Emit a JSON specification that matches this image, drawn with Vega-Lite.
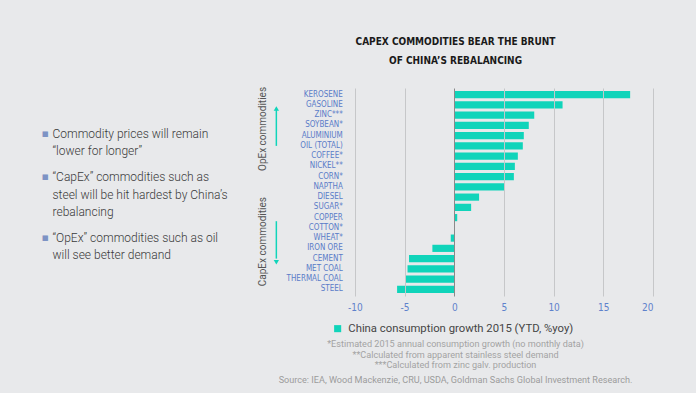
{
  "$schema": "https://vega.github.io/schema/vega-lite/v6.json",
  "background": "#e8e9eb",
  "padding": {"left": 41, "top": 36, "right": 43, "bottom": 8},
  "config": {
    "view": {"stroke": null},
    "font": "Roboto",
    "concat": {"spacing": 30}
  },
  "resolve": {"scale": {"color": "independent"}, "legend": {"color": "independent"}},
  "hconcat": [
    {
      "width": 1,
      "height": 208,
      "data": {"values": [
        {"id": 1, "lines": ["Commodity prices will remain", "“lower for longer”"]},
        {"id": 2, "lines": ["“CapEx” commodities such as", "steel will be hit hardest by China’s", "rebalancing"]},
        {"id": 3, "lines": ["“OpEx” commodities such as oil", "will see better demand"]}
      ]},
      "encoding": {
        "y": {"field": "id", "type": "ordinal", "scale": {"type": "point", "padding": 1, "align": 0.442}, "axis": null}
      },
      "layer": [
        {
          "transform": [{"filter": "length(datum.lines) == 2"}],
          "mark": {"type": "text", "align": "left", "baseline": "middle", "dx": 11, "fontSize": 12, "font": "Roboto", "fontWeight": 300, "lineHeight": 17.5, "color": "#3a3a3a"},
          "encoding": {"text": {"field": "lines"}}
        },
        {
          "transform": [{"filter": "length(datum.lines) == 3"}],
          "mark": {"type": "text", "align": "left", "baseline": "middle", "dx": 11, "dy": -8.75, "fontSize": 12, "font": "Roboto", "fontWeight": 300, "lineHeight": 17.5, "color": "#3a3a3a"},
          "encoding": {"text": {"field": "lines"}}
        },
        {
          "transform": [{"filter": "length(datum.lines) == 2"}],
          "mark": {"type": "text", "align": "left", "baseline": "middle", "fontSize": 11, "font": "DejaVu Sans", "color": "#7d93c4"},
          "encoding": {"text": {"value": "▪"}}
        },
        {
          "transform": [{"filter": "length(datum.lines) == 3"}],
          "mark": {"type": "text", "align": "left", "baseline": "middle", "dy": -8.75, "fontSize": 11, "font": "DejaVu Sans", "color": "#7d93c4"},
          "encoding": {"text": {"value": "▪"}}
        }
      ]
    },
    {
      "title": {
        "text": ["CAPEX COMMODITIES BEAR THE BRUNT", "OF CHINA’S REBALANCING"],
        "anchor": "middle",
        "frame": "bounds",
        "font": "DejaVu Sans Condensed",
        "fontSize": 10,
        "fontWeight": "bold",
        "color": "#1a1a1a",
        "lineHeight": 19,
        "offset": 21
      },
      "resolve": {"scale": {"color": "independent"}, "legend": {"color": "independent"}},
      "vconcat": [
        {
          "width": 321,
          "height": 208,
          "title": {
            "text": ["*Estimated 2015 annual consumption growth (no monthly data)", "**Calculated from apparent stainless steel demand", "***Calculated from zinc galv. production"],
            "subtitle": "Source: IEA, Wood Mackenzie, CRU, USDA, Goldman Sachs Global Investment Research.",
            "orient": "bottom",
            "anchor": "middle",
            "frame": "bounds",
            "font": "Roboto",
            "fontSize": 9.1,
            "fontWeight": "normal",
            "color": "#a3a3a3",
            "lineHeight": 10.5,
            "subtitleFont": "Roboto",
            "subtitleFontSize": 9.1,
            "subtitleColor": "#9c9c9c",
            "subtitlePadding": 6,
            "offset": 6
          },
          "layer": [
            {
              "data": {"values": [
                {"commodity": "KEROSENE", "growth": 17.7},
                {"commodity": "GASOLINE", "growth": 10.9},
                {"commodity": "ZINC***", "growth": 8.05},
                {"commodity": "SOYBEAN*", "growth": 7.5},
                {"commodity": "ALUMINIUM", "growth": 7.0},
                {"commodity": "OIL (TOTAL)", "growth": 6.9},
                {"commodity": "COFFEE*", "growth": 6.4},
                {"commodity": "NICKEL**", "growth": 6.1},
                {"commodity": "CORN*", "growth": 6.0},
                {"commodity": "NAPTHA", "growth": 5.1},
                {"commodity": "DIESEL", "growth": 2.5},
                {"commodity": "SUGAR*", "growth": 1.7},
                {"commodity": "COPPER", "growth": 0.3},
                {"commodity": "COTTON*", "growth": 0},
                {"commodity": "WHEAT*", "growth": -0.35},
                {"commodity": "IRON ORE", "growth": -2.2},
                {"commodity": "CEMENT", "growth": -4.55},
                {"commodity": "MET COAL", "growth": -4.7},
                {"commodity": "THERMAL COAL", "growth": -4.9},
                {"commodity": "STEEL", "growth": -5.75}
              ]},
              "mark": {"type": "bar"},
              "encoding": {
                "x": {
                  "field": "growth", "type": "quantitative",
                  "scale": {"domain": [-12.3, 20], "nice": false, "zero": false},
                  "axis": {
                    "values": [-10, -5, 0, 5, 10, 15, 20],
                    "labelExpr": "datum.value + ''",
                    "grid": true,
                    "gridColor": {"condition": {"test": "datum.value === 0", "value": "#8a8a8a"}, "value": "#c6c7c9"},
                    "gridWidth": 1,
                    "domain": false, "ticks": false,
                    "labelFont": "DejaVu Sans Condensed", "labelFontSize": 10, "labelColor": "#5f82cc",
                    "labelPadding": 6, "title": null, "zindex": 1
                  }
                },
                "y": {
                  "field": "commodity", "type": "nominal", "sort": null,
                  "scale": {
                    "domain": ["KEROSENE", "GASOLINE", "ZINC***", "SOYBEAN*", "ALUMINIUM", "OIL (TOTAL)", "COFFEE*", "NICKEL**", "CORN*", "NAPTHA", "DIESEL", "SUGAR*", "COPPER", "COTTON*", "WHEAT*", "IRON ORE", "CEMENT", "MET COAL", "THERMAL COAL", "STEEL"],
                    "paddingInner": 0.3, "paddingOuter": 0.3
                  },
                  "axis": {
                    "domain": false, "ticks": false,
                    "labelFont": "DejaVu Sans Condensed", "labelFontSize": 8, "labelColor": "#5a7cc8",
                    "labelPadding": -10.3, "title": null
                  }
                },
                "color": {
                  "datum": "China consumption growth 2015 (YTD, %yoy)",
                  "scale": {"range": ["#10d4ba"]},
                  "legend": {
                    "orient": "bottom", "title": null, "symbolType": "square", "symbolSize": 50,
                    "symbolStrokeWidth": 0, "labelFont": "Roboto", "labelFontSize": 11.3, "labelColor": "#454545",
                    "labelLimit": 400, "offset": 11, "padding": 0, "labelOffset": 5
                  }
                }
              }
            },
            {
              "data": {"values": [
                {"group": "OpEx commodities", "at": "SOYBEAN*"},
                {"group": "CapEx commodities", "at": "WHEAT*"}
              ]},
              "mark": {"type": "text", "angle": 270, "align": "center", "baseline": "middle", "font": "Roboto", "fontSize": 10, "color": "#555555"},
              "encoding": {
                "x": {"datum": -19.24, "type": "quantitative"},
                "y": {"field": "at", "type": "nominal", "bandPosition": 1},
                "text": {"field": "group"}
              }
            },
            {
              "data": {"values": [
                {"from": "GASOLINE", "to": "OIL (TOTAL)"},
                {"from": "COPPER", "to": "CEMENT"}
              ]},
              "mark": {"type": "rule", "color": "#10d4ba", "strokeWidth": 1.5},
              "encoding": {
                "x": {"datum": -17.9, "type": "quantitative"},
                "y": {"field": "from", "type": "nominal", "bandPosition": 1},
                "y2": {"field": "to"}
              }
            },
            {
              "data": {"values": [{"head": "GASOLINE"}]},
              "mark": {"type": "point", "shape": "triangle-up", "filled": true, "size": 28, "color": "#10d4ba", "opacity": 1},
              "encoding": {
                "x": {"datum": -17.9, "type": "quantitative"},
                "y": {"field": "head", "type": "nominal", "bandPosition": 1}
              }
            },
            {
              "data": {"values": [{"head": "CEMENT"}]},
              "mark": {"type": "point", "shape": "triangle-down", "filled": true, "size": 28, "color": "#10d4ba", "opacity": 1},
              "encoding": {
                "x": {"datum": -17.9, "type": "quantitative"},
                "y": {"field": "head", "type": "nominal", "bandPosition": 1}
              }
            }
          ]
        }
      ]
    }
  ]
}
